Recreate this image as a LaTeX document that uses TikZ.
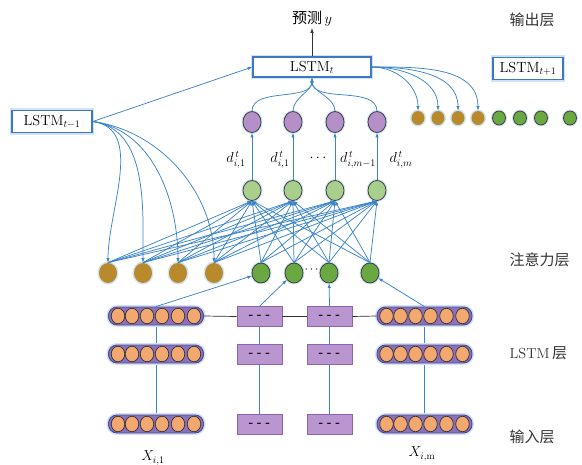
\documentclass[tikz,border=0pt]{standalone}
\usepackage{fontspec}
\newfontfamily\cjk{Noto Sans CJK SC}
\usetikzlibrary{arrows.meta,shapes.geometric,backgrounds}
\definecolor{lnblue}{HTML}{3A84C9}
\definecolor{boxblue}{HTML}{3E78C2}
\definecolor{glow}{HTML}{CFE4F4}
\definecolor{purp}{HTML}{B590C8}
\definecolor{lgreen}{HTML}{A8CF8C}
\definecolor{dgreen}{HTML}{6AA842}
\definecolor{gold}{HTML}{B98A2C}
\definecolor{orangec}{HTML}{F3A86F}
\definecolor{capfill}{HTML}{8C70B9}
\definecolor{capedge}{HTML}{4E4690}
\definecolor{boxfill}{HTML}{B996CF}
\definecolor{boxedge}{HTML}{8E62AC}
\begin{document}
\begin{tikzpicture}[x=1pt,y=-1pt,
  conn/.style={-{Latex[length=4.5pt,width=3.4pt]},lnblue,line width=0.75pt},
  plain/.style={lnblue,line width=0.75pt},
  link/.style={black!80,line width=0.7pt},
  lstmbox/.style={draw=boxblue,line width=1.6pt,fill=white,
    preaction={draw=glow,line width=4.5pt},inner sep=0pt,
    font=\fontsize{14.5}{16}\selectfont},
  ball/.style={ellipse,inner sep=0pt,minimum width=18pt,minimum height=20pt,
    draw=black!75,line width=0.8pt,preaction={draw=glow,line width=3pt}},
  goldball/.style={ball,draw=none,fill=gold},
  smallball/.style={ball,minimum width=13pt,minimum height=14pt},
  capsule/.style={rectangle,rounded corners=8.5pt,minimum width=95pt,minimum height=18pt,
    fill=capfill,draw=capedge,line width=0.9pt,preaction={draw=glow,line width=4pt}},
  cell/.style={ellipse,inner sep=0pt,minimum width=13.5pt,minimum height=15.5pt,
    fill=orangec,draw=black!80,line width=0.7pt},
  hbox/.style={rectangle,minimum width=45pt,minimum height=19.5pt,inner sep=0pt,
    fill=boxfill,draw=boxedge,line width=0.9pt},
  dashes/.style={font=\fontsize{12}{12}\selectfont\bfseries},
  layer/.style={anchor=west,font=\cjk\fontsize{15}{17}\selectfont,text=black!80},
  lbl/.style={font=\fontsize{14}{16}\selectfont}
]
\useasboundingbox (0,0) rectangle (582,464);

% ---- layer captions
\node[layer] (capOut) at (506,20) {输出层};
\node[layer] (capAtt) at (506,260) {注意力层};
\node[layer] (capLstm) at (506,353) {{\rmfamily\fontsize{14.5}{17}\selectfont LSTM}\,层};
\node[layer] (capIn) at (506,437) {输入层};

% ---- output part
\node[lstmbox,minimum width=118pt,minimum height=20pt] (lt) at (312,67) {LSTM$_{t}$};
\node[lstmbox,minimum width=70pt,minimum height=22pt] (lnext) at (528,68.5) {LSTM$_{t+1}$};
\node[lstmbox,minimum width=80pt,minimum height=22pt] (lprev) at (52,121.5) {LSTM$_{t-1}$};
\node[font=\fontsize{15}{17}\selectfont,inner sep=1pt] (pred) at (312,19) {{\cjk 预测}\,$y$};
\draw[-{Latex[length=5pt,width=3.6pt]},black!80,line width=0.8pt] (lt.north) -- (pred.south);
\draw[conn] (lprev.east) -- (lt.west);

% ---- purple and light green units
\foreach \x [count=\k] in {252,293,335,377} {
  \node[ball,fill=purp,minimum height=21pt] (p\k) at (\x,122) {};
  \node[ball,fill=lgreen] (g\k) at (\x,190.5) {};
  \draw[conn] (g\k.north) -- (p\k.south);
  \draw[conn] (p\k.north) to[out=90,in=-90,looseness=0.9] (lt.south);
}
\node[lbl] (d1) at (236,160) {$d^{\,t}_{i,1}$};
\node[lbl] (d2) at (280,160) {$d^{\,t}_{i,1}$};
\node[lbl] (d3) at (318,158) {$\cdots$};
\node[lbl] (d4) at (358,160) {$d^{\,t}_{i,m-1}$};
\node[lbl] (d5) at (401,160) {$d^{\,t}_{i,m}$};

% ---- output side small units
\foreach \x [count=\k] in {418,438,458,478} {
  \node[smallball,draw=none,fill=gold] (o\k) at (\x,118) {};
  \draw[conn] (lt.east) to[out=0,in=90] (o\k.north);
}
\foreach \x [count=\k] in {499,520,541,570} {
  \node[smallball,fill=dgreen] (q\k) at (\x,118) {};
}

% ---- attention layer
\foreach \x [count=\k] in {108,143,178,214} {
  \node[goldball] (a\k) at (\x,273) {};
}
\foreach \x [count=\k] in {261,294,329,370} {
  \node[ball,fill=dgreen] (b\k) at (\x,273) {};
}
\node[font=\fontsize{12}{12}\selectfont] (bdots) at (311.5,270) {$\cdots$};
\foreach \k in {1,...,4} {
  \draw[conn] (lprev.east) to[out=-8,in=90,looseness=0.95] (a\k.north);
  \foreach \j in {1,...,4} {
    \draw[conn] (a\k.north) -- (g\j.south);
    \draw[conn] (b\k.north) -- (g\j.south);
  }
}

% ---- LSTM and input layers
\foreach \r/\y in {1/316,2/354,3/424} {
  \node[capsule] (cL\r) at (156,\y) {};
  \node[capsule] (cR\r) at (424.5,\y) {};
  \foreach \dx [count=\c] in {-38,-24,-9,6,22,38} {
    \node[cell] (cL\r-\c) at ([xshift=\dx pt]cL\r.center) {};
    \node[cell] (cR\r-\c) at ([xshift=\dx pt]cR\r.center) {};
  }
  \node[hbox] (m\r a) at (259.5,\y+0.5) {};
  \node[hbox] (m\r b) at (329.5,\y+0.5) {};
  \node[dashes] (t\r a) at (m\r a) {-\,\,-\,\,-};
  \node[dashes] (t\r b) at (m\r b) {-\,\,-\,\,-};
}
\begin{scope}[on background layer]
  \draw[plain] (cL1.center) -- (cL3.center);
  \draw[plain] (cR1.center) -- (cR3.center);
  \draw[plain] (m1a.center) -- (m3a.center);
  \draw[plain] (m1b.center) -- (m3b.center);
\end{scope}
\draw[link] (cL1.east) -- (m1a.west);
\draw[link] (m1a.east) -- (m1b.west);
\draw[link] (m1b.east) -- (cR1.west);
\draw[conn] (cL1.north) -- (b1);
\draw[conn] (m1a.north) -- (b2);
\draw[conn] (m1b.north) -- (b3);
\draw[conn] (cR1.north) -- (b4);

\node[lbl] (x1) at (153,458) {$X_{i,1}$};
\node[lbl] (xm) at (422,454) {$X_{i,\mathrm{m}}$};
\end{tikzpicture}
\end{document}
